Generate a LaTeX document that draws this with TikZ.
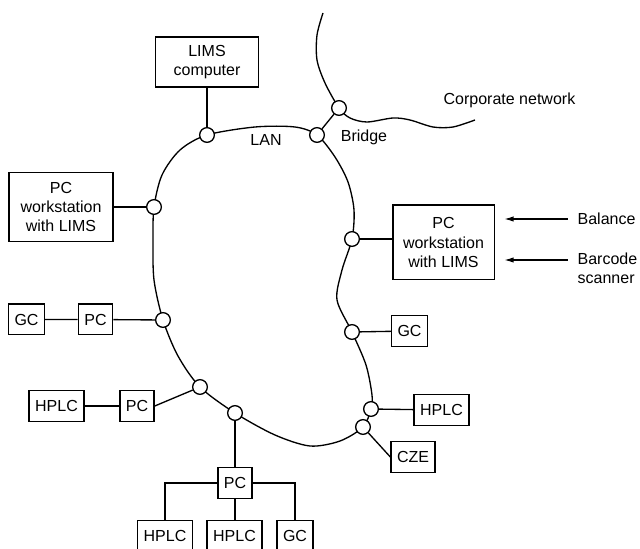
\documentclass[tikz,border=0pt]{standalone}
\usepackage{fontspec}
\setmainfont{Liberation Sans}
\usepackage{tikz}
\usetikzlibrary{arrows.meta, positioning, backgrounds}

\begin{document}
\begin{tikzpicture}[x=0.75pt, y=-0.75pt, line width=1pt,
  every node/.style={font=\fontsize{12}{14.5}\selectfont},
  tap/.style={draw, circle, fill=white, minimum size=11pt, inner sep=0pt},
  unit/.style={draw, minimum height=23pt, inner xsep=4.5pt, inner ysep=0pt},
  bigbox/.style={draw, align=center, inner sep=3pt},
  lanline/.style={line width=1pt},
  feed/.style={-{Latex[length=7pt,width=4pt]}, shorten <=7pt, shorten >=7pt}]
  \useasboundingbox (0,0) rectangle (640,549);

  % LAN の接続点
  \foreach \n/\x/\y in {tLims/207/135, tWsL/154/207, tGcL/163/320, tHplcL/200/387,
    tPcB/235/413, tCze/363/427, tHplcR/371/409, tGcR/352/332, tWsR/352/239,
    tBrA/317/135, tBrB/339/108} {
    \node[tap] (\n) at (\x,\y) {};
  }

  % LAN と社内ネットワーク
  \begin{scope}[on background layer]
    \draw[lanline] plot[smooth cycle] coordinates {(tLims.center) (255,127) (295,127)
      (tBrA.center) (335,157) (348,182) (354,210) (tWsR.center) (342,270)
      (337,300) (tGcR.center) (366,365) (372,395) (tHplcR.center) (tCze.center)
      (340,441) (310,446) (275,435) (tPcB.center) (tHplcL.center) (178,356)
      (tGcL.center) (154,280) (153,240) (tWsL.center) (162,175) (180,150)};
    \draw[lanline] plot[smooth] coordinates {(323,13) (317,35) (317,60) (325,83)
      (tBrB.center) (350,118) (367,122) (393,118) (410,120) (433,127)
      (453,127) (475,120)};
  \end{scope}
  \draw (tBrA) -- (tBrB);
  \node (lan) at (266,140) {LAN};
  \node (bridge) at (364,137) {Bridge};
  \node[anchor=west, inner sep=0pt] (corp) at (443,100) {Corporate network};

  % LIMS とワークステーション
  \node[bigbox, minimum width=77pt, minimum height=37.5pt] (lims) at (207,62) {LIMS\\computer};
  \draw (lims) -- (tLims);
  \node[bigbox, minimum width=78pt, minimum height=52pt] (wsL) at (61,207) {PC\\workstation\\with LIMS};
  \draw (wsL) -- (tWsL);
  \node[bigbox, minimum width=76pt, minimum height=56pt] (wsR) at (443.5,242.5) {PC\\workstation\\with LIMS};
  \draw (tWsR) -- (wsR.west |- tWsR);

  \node[anchor=west, inner sep=0pt] (balance) at (577,219) {Balance};
  \draw[feed] (balance.west) -- (wsR.east |- balance.west);
  \node[anchor=north west, inner sep=0pt, align=left] (barcode) at (577,252) {Barcode\\scanner};
  \coordinate (bcin) at ([yshift=-6pt]barcode.north west);
  \draw[feed] (bcin) -- (wsR.east |- bcin);

  % 左の GC・HPLC
  \node[unit] (gcL) at (26.5,319.5) {GC};
  \node[unit] (pcL) at (95.5,319.5) {PC};
  \draw (gcL) -- (pcL) -- (tGcL);
  \node[unit] (hplcL) at (56.5,406) {HPLC};
  \node[unit] (pcL2) at (137,406) {PC};
  \draw (hplcL) -- (pcL2);
  \draw (pcL2.east) -- (tHplcL);

  % 下の PC
  \node[unit] (pcB) at (235,483) {PC};
  \draw (tPcB) -- (pcB);
  \node[unit] (hplcB1) at (165,536) {HPLC};
  \node[unit] (hplcB2) at (234.5,536) {HPLC};
  \node[unit] (gcB) at (295,536) {GC};
  \draw (pcB.west) -| (hplcB1.north);
  \draw (pcB.south) -- (pcB.south |- hplcB2.north);
  \draw (pcB.east) -| (gcB.north);

  % 右の GC・HPLC・CZE
  \node[unit] (gcR) at (409.5,331) {GC};
  \draw (tGcR) -- (gcR);
  \node[unit] (hplcR) at (441.5,410) {HPLC};
  \draw (tHplcR) -- (hplcR);
  \node[unit] (czeR) at (413,457) {CZE};
  \draw (tCze) -- (czeR.west);
\end{tikzpicture}
\end{document}
